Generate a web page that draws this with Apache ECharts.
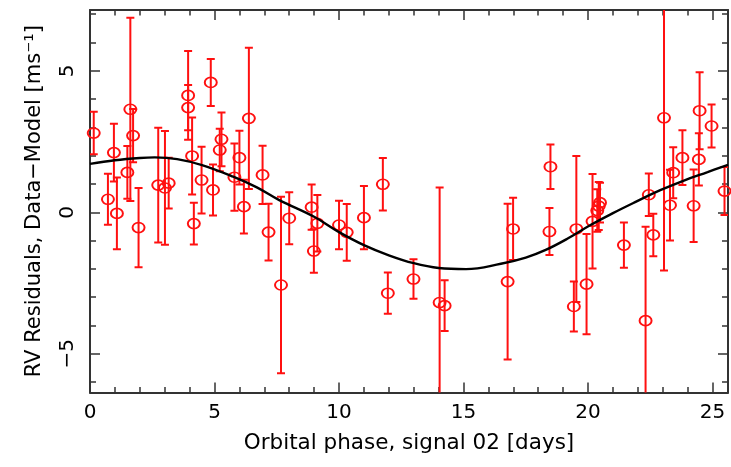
<!DOCTYPE html>
<html><head><meta charset="utf-8">
<script src="https://cdn.jsdelivr.net/npm/echarts@6/dist/echarts.min.js"></script>
<style>html,body{margin:0;padding:0;background:#fff}#c{width:731px;height:467px}</style>
</head><body><div id="c"></div>
<script>
// Orbital phase (days), residuals (m/s) and 1-sigma errors
const phase = [0.15,0.72,0.96,1.08,1.50,1.62,1.73,1.95,2.74,3.01,3.16,3.94,3.94,4.10,4.17,4.48,4.85,4.94,5.21,5.28,5.80,6.00,6.18,6.38,6.93,7.17,7.67,8.00,8.90,8.99,9.13,10.00,10.31,11.00,11.76,11.96,12.99,14.04,14.24,16.77,16.99,18.45,18.49,19.43,19.53,19.94,20.18,20.37,20.43,20.48,21.44,22.31,22.44,22.62,23.05,23.29,23.42,23.79,24.24,24.45,24.48,24.96,25.48];
const resid = [2.80,0.46,2.11,-0.04,1.41,3.64,2.71,-0.54,0.96,0.86,1.03,4.13,3.70,1.99,-0.40,1.14,4.59,0.79,2.20,2.58,1.24,1.93,0.20,3.32,1.32,-0.70,-2.57,-0.21,0.18,-1.37,-0.39,-0.45,-0.71,-0.19,0.99,-2.86,-2.36,-3.19,-3.30,-2.45,-0.59,-0.68,1.61,-3.33,-0.59,-2.54,-0.32,0.06,0.22,0.34,-1.16,-3.83,0.62,-0.80,3.34,0.25,1.40,1.93,0.23,1.87,3.59,3.05,0.75];
const errs  = [0.75,0.90,1.02,1.27,0.93,3.24,0.94,1.40,2.03,2.01,0.90,1.57,0.80,1.36,0.74,1.18,0.83,0.90,0.75,0.95,1.19,0.95,0.95,2.50,1.03,1.00,3.12,0.92,0.80,0.77,1.00,0.86,1.00,1.12,0.93,0.73,0.70,4.07,0.90,2.75,1.10,0.83,0.79,0.88,2.58,1.77,1.67,0.75,0.85,0.70,0.80,3.32,0.75,0.75,5.40,1.25,0.90,0.97,1.28,0.92,1.36,0.76,0.85];

// Model curve
const modelX = [0,1,2,2.6,3.5,4.5,5.75,6.7,7.6,9.0,10.0,11.0,12.0,13.0,14.0,15.1,16.5,17.5,18.3,19.2,20.1,21.0,21.8,22.9,23.9,24.8,25.62];
const modelY = [1.71,1.84,1.92,1.94,1.88,1.67,1.26,0.88,0.43,-0.16,-0.70,-1.16,-1.52,-1.80,-1.97,-2.01,-1.82,-1.60,-1.33,-0.92,-0.45,-0.03,0.32,0.78,1.14,1.42,1.68];

// Ticks
const xMajor = [0,5,10,15,20,25];
const xMinor = [0,1,2,3,4,5,6,7,8,9,10,11,12,13,14,15,16,17,18,19,20,21,22,23,24,25];
const yMajor = [-5,0,5];
const yMinor = [-6,-5,-4,-3,-2,-1,0,1,2,3,4,5,6,7];
const xTickLabels = ['0','5','10','15','20','25'];
const yTickLabels = ['\u22125','0','5'];

const X_MIN = 0, X_MAX = 25.62, Y_MIN = -6.37, Y_MAX = 7.15;
const RED = '#ff1010';
const FRAME = '#333333';
const FONT = 'DejaVu Sans';

function xAxis(pos, ticks, len, line, labels) {
  return {
    type: 'value', position: pos, min: X_MIN, max: X_MAX,
    axisLine: {show: line, onZero: false, lineStyle: {color: FRAME, width: 2}},
    axisTick: {show: true, inside: true, length: len, customValues: ticks, lineStyle: {color: FRAME, width: 1.5}},
    axisLabel: labels ? {show: true, customValues: xMajor, margin: 10, color: '#000', fontFamily: FONT, fontSize: 20,
      formatter: v => xTickLabels[xMajor.indexOf(Math.round(v))]} : {show: false},
    splitLine: {show: false}
  };
}
function yAxis(pos, ticks, len, line, labels) {
  return {
    type: 'value', position: pos, min: Y_MIN, max: Y_MAX,
    axisLine: {show: line, onZero: false, lineStyle: {color: FRAME, width: 2}},
    axisTick: {show: true, inside: true, length: len, customValues: ticks, lineStyle: {color: FRAME, width: 1.5}},
    axisLabel: labels ? {show: true, customValues: yMajor, rotate: 90, margin: 12, color: '#000', fontFamily: FONT, fontSize: 20,
      formatter: v => yTickLabels[yMajor.indexOf(Math.round(v))]} : {show: false},
    splitLine: {show: false}
  };
}

const xa = [xAxis('bottom', xMajor, 10, true, true), xAxis('bottom', xMinor, 5.5, false, false),
            xAxis('top', xMajor, 10, true, false), xAxis('top', xMinor, 5.5, false, false)];
Object.assign(xa[0], {name: 'Orbital phase, signal 02 [days]', nameLocation: 'middle', nameGap: 40,
  nameTextStyle: {color: '#000', fontFamily: FONT, fontSize: 21.5}});
const ya = [yAxis('left', yMajor, 10, true, true), yAxis('left', yMinor, 6, false, false),
            yAxis('right', yMajor, 10, true, false), yAxis('right', yMinor, 6, false, false)];
Object.assign(ya[0], {name: 'RV Residuals, Data\u2212Model [ms\u207B\u00B9]', nameLocation: 'middle', nameGap: 45,
  nameTextStyle: {color: '#000', fontFamily: FONT, fontSize: 21}});

const pts = phase.map((x, i) => [x, resid[i], errs[i]]);

const chart = echarts.init(document.getElementById('c'), null, {renderer: 'canvas'});
chart.setOption({
  animation: false,
  backgroundColor: '#fff',
  grid: {left: 90, top: 10, width: 638, height: 382.5, containLabel: false},
  xAxis: xa,
  yAxis: ya,
  series: [
    {
      type: 'custom', xAxisIndex: 0, yAxisIndex: 0, clip: true, z: 2,
      data: pts, encode: {x: 0, y: 1},
      renderItem: function (params, api) {
        const x = api.value(0), y = api.value(1), e = api.value(2);
        const t = api.coord([x, y + e]), b = api.coord([x, y - e]);
        const hw = 4;
        const st = {stroke: RED, lineWidth: 2};
        return {type: 'group', children: [
          {type: 'line', shape: {x1: t[0], y1: t[1], x2: b[0], y2: b[1]}, style: st},
          {type: 'line', shape: {x1: t[0] - hw, y1: t[1], x2: t[0] + hw, y2: t[1]}, style: st},
          {type: 'line', shape: {x1: b[0] - hw, y1: b[1], x2: b[0] + hw, y2: b[1]}, style: st}
        ]};
      }
    },
    {
      type: 'scatter', xAxisIndex: 0, yAxisIndex: 0, z: 3,
      data: pts.map(p => [p[0], p[1]]),
      symbol: 'circle', symbolSize: [12, 10],
      itemStyle: {color: 'rgba(0,0,0,0)', borderColor: RED, borderWidth: 1.8, opacity: 1}
    },
    {
      type: 'line', xAxisIndex: 0, yAxisIndex: 0, z: 4,
      data: modelX.map((x, i) => [x, modelY[i]]),
      smooth: 0.4, showSymbol: false, symbol: 'none',
      lineStyle: {color: '#000', width: 2.4}
    }
  ]
});
</script>
</body></html>
